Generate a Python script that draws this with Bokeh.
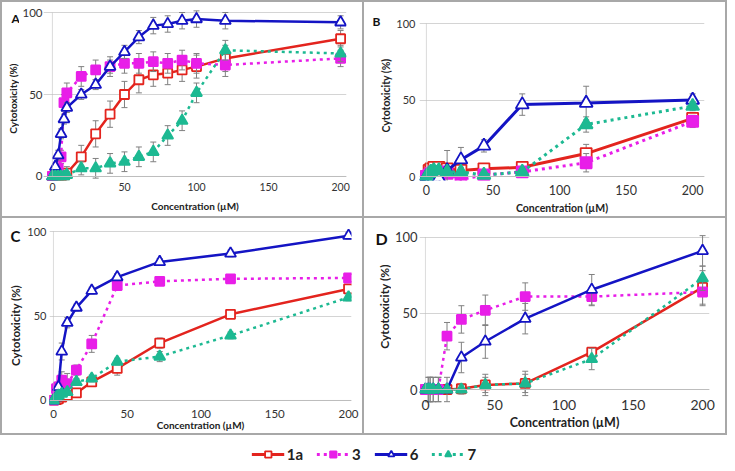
import math
from bokeh.plotting import figure
from bokeh.layouts import row, column
from bokeh.models import Div, Span, BoxAnnotation, Legend, LegendItem, Range1d
from bokeh.core.properties import value
from bokeh.embed import file_html
from bokeh.resources import INLINE

FONT = "Lato"

# ---------------- data ----------------
series_names = ["1a", "3", "6", "7"]
x_ticks = [0, 50, 100, 150, 200]
y_ticks = [0, 50, 100]
x_title = "Concentration (µM)"
y_title = "Cytotoxicity (%)"
panel_letters = ["A", "B", "C", "D"]

conc_A = [0, 2, 4, 6, 8, 10, 20, 30, 40, 50, 60, 70, 80, 90, 100, 120, 200]
A_1a = [0, 0, 0, 0, 1, 2, 12, 26, 38, 50, 59, 62, 63, 65, 67, 72, 84]
A_1a_err = [0, 1, 1, 1, 2, 4, 7, 8, 8, 8, 8, 7, 7, 7, 7, 8, 5]
A_3 = [0, 2, 5, 12, 45, 51, 61, 65, 67, 69, 69, 70, 69, 71, 69, 68, 72]
A_3_err = [0, 2, 3, 4, 5, 6, 6, 6, 6, 6, 6, 6, 6, 6, 6, 7, 5]
A_6 = [0, 6, 13, 26, 35, 42, 50, 56, 67, 76, 85, 92, 93, 95, 96, 95, 94]
A_6_err = [0, 2, 3, 3, 3, 3, 3, 3, 4, 4, 4, 5, 5, 5, 5, 5, 4]
A_7 = [0, 0, 0, 0, 0, 1, 5, 5, 8, 9, 12, 15, 25, 34, 51, 77, 75]
A_7_err = [0, 1, 1, 1, 1, 2, 4, 6, 6, 6, 6, 6, 6, 6, 6, 6, 5]

conc_BCD = [0, 2.02, 3.36, 5.6, 9.33, 15.55, 25.92, 43.2, 72, 120, 200]
B_1a = [0, 4, 5, 6, 6, 5, 4, 5, 6, 15, 38]
B_1a_err = [0, 2, 2, 3, 3, 3, 2, 3, 2, 6, 3]
B_3 = [0, 1, 2, 3, 3, 2, -2, 1, 3, 9, 36]
B_3_err = [0, 2, 2, 2, 2, 2, 2, 2, 2, 6, 4]
B_6 = [0, -1, -1, -1, -1, 4, 11, 20, 47, 48, 50]
B_6_err = [0, 2, 3, 4, 6, 13, 8, 4, 7, 11, 4]
B_7 = [0, 2, 3, 4, 4, 3, 3, 1, 3, 34, 46]
B_7_err = [0, 2, 2, 3, 3, 3, 3, 2, 2, 5, 3]

C_1a = [0, 0.5, 1, 2, 3, 4.5, 11, 19, 34, 51, 66]
C_1a_err = [0, 1, 1, 1, 1, 2, 2, 4, 3, 2, 2]
C_3 = [0, 7, 8, 12, 10, 18, 33.5, 68, 70.5, 72, 72.5]
C_3_err = [0, 2, 3, 5, 6, 3, 5, 2, 2, 2, 2]
C_6 = [0, 2, 8, 29, 46, 55, 65, 73, 82, 87, 97.5]
C_6_err = [0, 1, 2, 5, 3, 2, 2, 2, 2, 2, 2]
C_7 = [0, 2, 3, 4, 5, 11, 13, 23, 26, 38.5, 61]
C_7_err = [0, 1, 1, 1, 2, 2, 2, 2, 3, 2, 2]

D_1a = [0, 0, 0, 0, 0, 0, 0.5, 3, 4, 24.5, 67]
D_1a_err = [0, 0, 0, 0, 0, 0, 3, 7, 6, 3, 11]
D_3 = [0, 0, 0, 0, 0, 35, 46, 52, 61, 61, 64]
D_3_err = [0, 8, 8, 8, 8, 9, 9, 10, 9, 6, 9]
D_6 = [0, 0, 0, 0, 0, 0, 21, 31.5, 46.5, 65.5, 91]
D_6_err = [0, 8, 8, 8, 8, 8, 10, 11, 10, 10, 10]
D_7 = [0, 0, 0, 0, 0, 0, 0, 3, 4, 20, 73]
D_7_err = [0, 0, 0, 0, 0, 0, 3, 5, 8, 7, 8]

# ---------------- styles ----------------
STYLE = {
    "1a": dict(color="#E3241E", dash="solid", marker="square", fill="white"),
    "3": dict(color="#E81EE8", dash="3 4", marker="square", fill="#E81EE8"),
    "6": dict(color="#1414C4", dash="solid", marker="triangle", fill="white"),
    "7": dict(color="#1DB992", dash="3 4", marker="triangle", fill="#1DB992"),
}
ERR_COLOR = "#808080"
TXT = "#333333"
AXIS_LINE = "#BDBDBD"


def make_strip(letter, g):
    """Narrow left strip holding the panel letter and the rotated y-axis title.
    It shares the top/bottom borders of its row so that frames line up."""
    w, h = g["lw_strip"], g["h"]
    top, bot = g["tb"]
    s = figure(width=w, height=h, x_range=Range1d(0, w), y_range=Range1d(h - bot, top),
               toolbar_location=None, output_backend="svg",
               min_border_left=0, min_border_right=0, min_border_top=top, min_border_bottom=bot,
               x_axis_location=None, y_axis_location=None)
    s.grid.visible = False
    s.outline_line_color = None
    s.text(x=[g["let_pos"][0]], y=[g["let_pos"][1]], text=[letter],
           text_font=value(FONT), text_font_style="bold", text_font_size=g["lab_fs"],
           text_baseline="middle", text_align="left", text_color="#111111")
    s.text(x=[g["yt_pos"][0]], y=[g["yt_pos"][1]], text=[y_title], angle=math.pi / 2,
           text_font=value(FONT), text_font_style="bold", text_font_size=g["ytitle_fs"],
           text_baseline="middle", text_align="center", text_color="#222222")
    return s


def make_panel(letter, conc, vals, errs, g):
    top, bot = g["tb"]
    p = figure(width=g["w"] - g["lw_strip"], height=g["h"], x_range=g["xr"], y_range=g["yr"],
               toolbar_location=None, output_backend="svg",
               min_border_left=g["mbl"], min_border_right=g["mbr"],
               min_border_top=top, min_border_bottom=bot)
    p.outline_line_color = None
    p.xgrid.visible = False
    p.ygrid.grid_line_color = "#D4D4D4"
    p.xaxis.ticker = x_ticks
    p.yaxis.ticker = y_ticks
    for ax in (p.xaxis, p.yaxis):
        ax.axis_line_color = None
        ax.major_tick_line_color = None
        ax.minor_tick_line_color = None
        ax.major_tick_out = 0
        ax.major_tick_in = 0
        ax.minor_tick_out = 0
        ax.minor_tick_in = 0
        ax.major_label_text_font = FONT
        ax.major_label_text_color = TXT
        ax.axis_label_text_font = FONT
        ax.axis_label_text_font_style = "bold"
        ax.axis_label_text_color = "#222222"
    p.xaxis.axis_label = x_title
    p.xaxis.major_label_text_font_size = g["xtick_fs"]
    p.yaxis.major_label_text_font_size = g["ytick_fs"]
    p.xaxis.axis_label_text_font_size = g["xtitle_fs"]
    p.xaxis.major_label_standoff = g["xstand"]
    p.yaxis.major_label_standoff = g["ystand"]
    p.xaxis.axis_label_standoff = g["xtstand"]
    p.add_layout(Span(location=0, dimension="width", line_color=AXIS_LINE, line_width=1))
    p.add_layout(BoxAnnotation(left=0, right=0, bottom=y_ticks[0], top=y_ticks[-1],
                               fill_alpha=0, line_color=AXIS_LINE, line_width=1))

    for name in series_names:
        st = STYLE[name]
        y = vals[name]
        e = errs[name]
        ex = [c for c, ee in zip(conc, e) if ee > 0]
        lo = [v - ee for v, ee in zip(y, e) if ee > 0]
        hi = [v + ee for v, ee in zip(y, e) if ee > 0]
        p.segment(x0=ex, y0=lo, x1=ex, y1=hi, line_color=ERR_COLOR, line_width=1)
        p.scatter(x=ex + ex, y=lo + hi, marker="dash", size=6, line_color=ERR_COLOR, line_width=1)
        p.line(conc, y, line_color=st["color"], line_width=g["lw"], line_dash=st["dash"])
        size = g["ms"] + (2 if st["marker"] == "triangle" else 0)
        p.scatter(conc, y, marker=st["marker"], size=size, line_color=st["color"],
                  fill_color=st["fill"], line_width=1.8)
    return row(make_strip(letter, g), p, spacing=0)


# top row shares borders (5, 36); bottom row shares borders (8, 28)
gA = dict(w=360, h=214, lw_strip=17, tb=(5, 36), mbl=21, mbr=16,
          xr=(-6.2, 204.1), yr=(-2.44, 103.05),
          xtick_fs="10.5px", ytick_fs="11.5px", xtitle_fs="10px", ytitle_fs="10px",
          xstand=2, ystand=1, xtstand=6, lw=2.5, ms=9,
          let_pos=(9, 15.5), yt_pos=(10, 96), lab_fs="12px")
gB = dict(w=361, h=214, lw_strip=29, tb=(5, 36), mbl=23, mbr=21,
          xr=(-5.2, 208.9), yr=(-2.61, 110.46),
          xtick_fs="12.5px", ytick_fs="11px", xtitle_fs="10.5px", ytitle_fs="10.5px",
          xstand=4, ystand=4, xtstand=4, lw=3, ms=11,
          let_pos=(8, 19), yt_pos=(21, 93), lab_fs="12px")
gC = dict(w=360, h=215, lw_strip=22, tb=(8, 28), mbl=24, mbr=11,
          xr=(-2.7, 202), yr=(-2.96, 102.96),
          xtick_fs="11.5px", ytick_fs="11px", xtitle_fs="10px", ytitle_fs="11.5px",
          xstand=4, ystand=3, xtstand=-2, lw=2.5, ms=9,
          let_pos=(8, 17), yt_pos=(13, 107), lab_fs="15px")
gD = dict(w=361, h=215, lw_strip=27, tb=(8, 28), mbl=26, mbr=16,
          xr=(-4.3, 205), yr=(-10.5, 107.0),
          xtick_fs="14px", ytick_fs="13px", xtitle_fs="12.5px", ytitle_fs="12px",
          xstand=-6, ystand=2, xtstand=2, lw=2.5, ms=9,
          let_pos=(11, 20), yt_pos=(20, 88), lab_fs="16px")

pA = make_panel(panel_letters[0], conc_A,
                {"1a": A_1a, "3": A_3, "6": A_6, "7": A_7},
                {"1a": A_1a_err, "3": A_3_err, "6": A_6_err, "7": A_7_err}, gA)
pB = make_panel(panel_letters[1], conc_BCD,
                {"1a": B_1a, "3": B_3, "6": B_6, "7": B_7},
                {"1a": B_1a_err, "3": B_3_err, "6": B_6_err, "7": B_7_err}, gB)
pC = make_panel(panel_letters[2], conc_BCD,
                {"1a": C_1a, "3": C_3, "6": C_6, "7": C_7},
                {"1a": C_1a_err, "3": C_3_err, "6": C_6_err, "7": C_7_err}, gC)
pD = make_panel(panel_letters[3], conc_BCD,
                {"1a": D_1a, "3": D_3, "6": D_6, "7": D_7},
                {"1a": D_1a_err, "3": D_3_err, "6": D_6_err, "7": D_7_err}, gD)

# ---------------- legend ----------------
NAN = float("nan")
pL = figure(width=727, height=28, x_range=(0, 1), y_range=(0, 1),
            toolbar_location=None, output_backend="svg", min_border=0)
pL.axis.visible = False
pL.grid.visible = False
pL.outline_line_color = None
items = []
for name in series_names:
    st = STYLE[name]
    lr = pL.line([NAN, NAN], [NAN, NAN], line_color=st["color"], line_width=3, line_dash=st["dash"])
    sr = pL.scatter([NAN], [NAN], marker=st["marker"], size=11 if st["marker"] == "triangle" else 9,
                    line_color=st["color"], fill_color=st["fill"], line_width=1.8)
    items.append(LegendItem(label=name, renderers=[lr, sr]))
leg = Legend(items=items, orientation="horizontal", location="bottom_center",
             glyph_width=33, glyph_height=16, label_standoff=3, spacing=13,
             label_width=0, label_height=16,
             padding=0, margin=0, border_line_color=None, background_fill_alpha=0,
             label_text_font=FONT, label_text_font_style="bold", label_text_font_size="15px",
             label_text_color="#222222")
pL.add_layout(leg, "center")

BORDER = "#A8A8A8"


def vline(h):
    return Div(width=2, height=h, margin=0, styles={"background-color": BORDER})


def hline(w):
    return Div(width=w, height=2, margin=0, styles={"background-color": BORDER})


layout = column(hline(727),
                row(vline(214), pA, vline(214), pB, vline(214)),
                hline(727),
                row(vline(215), pC, vline(215), pD, vline(215)),
                hline(727),
                pL)

open("out.html", "w").write(file_html(layout, INLINE))
